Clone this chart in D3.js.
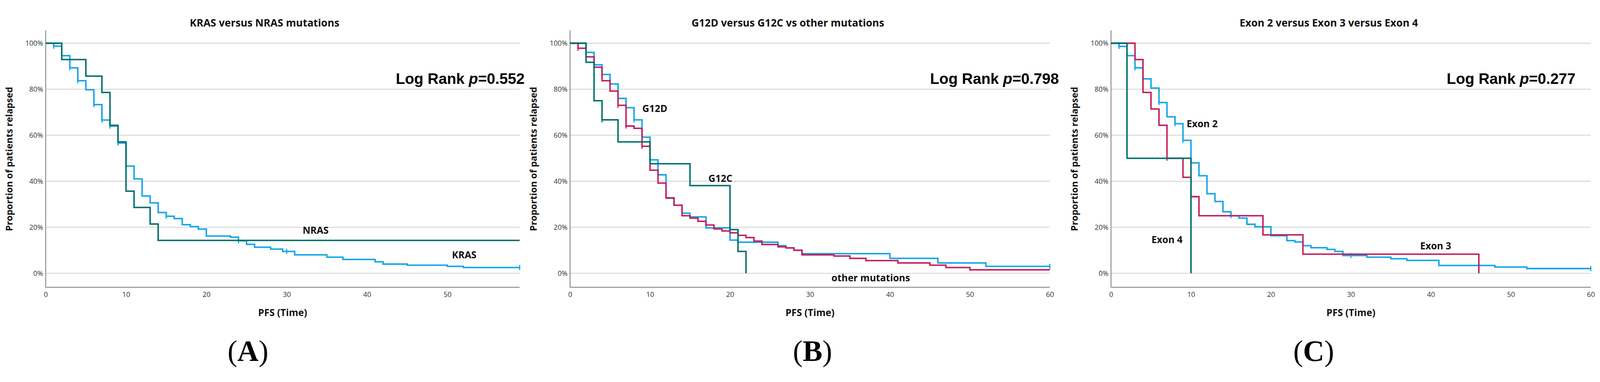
<!DOCTYPE html>
<html><head><meta charset="utf-8">
<script src="https://cdn.jsdelivr.net/npm/d3@7"></script>
<style>html,body{margin:0;padding:0;background:#fff;overflow:hidden;width:100%;height:100%;} svg{display:block;width:100vw;height:100vh}</style>
</head><body><svg id="c" viewBox="0 0 4342 979" preserveAspectRatio="xMidYMid meet"></svg>
<script>
// ---------------- data ----------------
const yTicks = [0, 0.2, 0.4, 0.6, 0.8, 1];
const xTicksA = [0, 10, 20, 30, 40, 50];
const xTicksBC = [0, 10, 20, 30, 40, 50, 60];
const titles = ["KRAS versus NRAS mutations", "G12D versus G12C vs other mutations", "Exon 2 versus Exon 3 versus Exon 4"];
const pValues = ["0.552", "0.798", "0.277"];
const letters = ["A", "B", "C"];
const xMax = [59, 60, 60];

// Panel A
const krasT = [0,1,2,3,4,5,6,7,8,9,10,11,12,13,14,15,16,17,18,19,20,23,24,25,26,28,29.5,31,35,37,41,42,45,50,52,59];
const krasS = [1,.987,.946,.893,.837,.798,.733,.666,.640,.566,.466,.410,.336,.306,.264,.248,.238,.211,.203,.192,.162,.157,.141,.126,.113,.105,.095,.080,.070,.060,.050,.040,.035,.030,.025,.025];
const krasCens = [1,3,4,6,7,8,9,10,15,24,30,59];
const nrasT = [0,2,5,7,8,9,10,11,13,14,59];
const nrasS = [1,.929,.857,.786,.643,.571,.357,.286,.214,.143,.143];
const nrasCens = [];

// Panel B
const g12dT = [0,2,3,4,5,6,7,8,9,10,11,12,13,14,15,17,20,21,26,27,28,29,40,46,52,60];
const g12dS = [1,.96,.906,.864,.823,.76,.72,.667,.592,.493,.428,.326,.296,.261,.245,.197,.144,.135,.12,.11,.10,.085,.065,.045,.03,.03];
const g12dCens = [8,9,10,60];
const g12cT = [0,2,3,4,6,10,15,20,21,22];
const g12cS = [1,.917,.75,.667,.571,.476,.381,.19,.095,0];
const g12cCens = [4];
const otherT = [0,1,2,3,4,5,6,7,8,9,10,11,12,13,14,15,16,17,18,19,20,21,22,23,24,26,27,28,29,33,35,37,41,45,47,50,60];
const otherS = [1,.978,.941,.896,.837,.792,.73,.64,.63,.552,.448,.392,.328,.296,.25,.24,.226,.21,.193,.184,.176,.165,.155,.14,.125,.115,.11,.10,.08,.075,.065,.055,.045,.035,.025,.015,.015];
const otherCens = [1,3,6,7,9];

// Panel C
const exon2T = [0,1,2,3,4,5,6,7,8,9,10,11,12,13,14,15,16,17,18,20,22,23,24,25,27,28,29,32,35,37,41,48,52,60];
const exon2S = [1,.986,.946,.893,.845,.805,.742,.68,.65,.578,.48,.424,.346,.312,.267,.25,.24,.213,.202,.163,.142,.136,.12,.111,.104,.095,.077,.07,.063,.056,.034,.027,.0205,.0205];
const exon2Cens = [1,3,4,6,8,9,10,15,30,60];
const exon3T = [0,3,4,5,6,7,9,10,11,19,24,46];
const exon3S = [1,.929,.786,.714,.643,.5,.417,.333,.25,.167,.083,0];
const exon3Cens = [7];
const exon4T = [0,2,10];
const exon4S = [1,.5,0];
const exon4Cens = [];

// ---------------- styling / layout ----------------
const COL = {teal: "#00706b", blue: "#12a5e6", red: "#c51d5c"};
const panelX0 = [124, 1547, 3015];
const ppu = [21.8, 21.7, 21.7];
const Y100 = 88, Y0 = 713, XAXIS_Y = 751, YAXIS_TOP = 53;
const titleX = [718, 2138, 3606];
const logRankX = [1074, 2524, 3926];
const letterX = [673, 2205, 3565];

const curves = [
  [ {t: krasT, s: krasS, c: krasCens, col: COL.blue}, {t: nrasT, s: nrasS, c: nrasCens, col: COL.teal} ],
  [ {t: g12dT, s: g12dS, c: g12dCens, col: COL.blue}, {t: otherT, s: otherS, c: otherCens, col: COL.red}, {t: g12cT, s: g12cS, c: g12cCens, col: COL.teal} ],
  [ {t: exon2T, s: exon2S, c: exon2Cens, col: COL.blue}, {t: exon3T, s: exon3S, c: exon3Cens, col: COL.red}, {t: exon4T, s: exon4S, c: exon4Cens, col: COL.teal} ]
];
const labels = [
  [ {txt: "NRAS", t: 33.6, s: 0.187}, {txt: "KRAS", t: 52.1, s: 0.08} ],
  [ {txt: "G12D", t: 10.6, s: 0.715}, {txt: "G12C", t: 18.8, s: 0.411}, {txt: "other mutations", t: 37.6, s: -0.02} ],
  [ {txt: "Exon 2", t: 11.4, s: 0.65}, {txt: "Exon 4", t: 7.0, s: 0.146}, {txt: "Exon 3", t: 40.6, s: 0.118} ]
];

const svg = d3.select("#c");
svg.append("rect").attr("width", 4342).attr("height", 979).attr("fill", "#fff");
const y = d3.scaleLinear().domain([0, 1]).range([Y0, Y100]);

function stepVal(T, S, t) {
  let v = S[0];
  for (let i = 0; i < T.length; i++) if (T[i] <= t) v = S[i];
  return v;
}

for (let p = 0; p < 3; p++) {
  const x = d3.scaleLinear().domain([0, xMax[p]]).range([panelX0[p], panelX0[p] + xMax[p] * ppu[p]]);
  const g = svg.append("g");
  const xL = x(0), xR = x(xMax[p]);
  const cx = (xL + xR) / 2;

  // gridlines
  g.append("g").selectAll("line").data(yTicks).join("line")
    .attr("x1", xL).attr("x2", xR).attr("y1", d => y(d)).attr("y2", d => y(d))
    .attr("stroke", "#d6d6d6").attr("stroke-width", 2.4);

  // y axis
  const ya = g.append("g").attr("transform", `translate(${xL},0)`)
    .call(d3.axisLeft(y).tickValues(yTicks).tickFormat(d3.format(".0%")).tickSize(0).tickPadding(7));
  ya.select(".domain").remove();
  ya.selectAll("text").attr("font-family", "Open Sans").attr("font-size", 19).attr("fill", "#333");
  g.append("line").attr("x1", xL).attr("x2", xL).attr("y1", YAXIS_TOP).attr("y2", XAXIS_Y)
    .attr("stroke", "#8f8f8f").attr("stroke-width", 2.6);

  // x axis
  const xa = g.append("g").attr("transform", `translate(0,${XAXIS_Y})`)
    .call(d3.axisBottom(x).tickValues(p === 0 ? xTicksA : xTicksBC).tickFormat(d3.format("d")).tickSize(0).tickPadding(13));
  xa.select(".domain").remove();
  xa.selectAll("text").attr("font-family", "Open Sans").attr("font-size", 19).attr("fill", "#333");
  g.append("line").attr("x1", xL).attr("x2", xR).attr("y1", XAXIS_Y).attr("y2", XAXIS_Y)
    .attr("stroke", "#8f8f8f").attr("stroke-width", 2.6);

  // curves
  const line = d3.line().x(d => x(d[0])).y(d => y(d[1])).curve(d3.curveStepAfter);
  curves[p].forEach(cv => {
    const pts = cv.t.map((t, i) => [t, cv.s[i]]);
    g.append("path").attr("d", line(pts)).attr("fill", "none")
      .attr("stroke", cv.col).attr("stroke-width", 4).attr("stroke-linejoin", "miter");
    g.append("g").selectAll("line").data(cv.c).join("line")
      .attr("x1", d => x(d)).attr("x2", d => x(d))
      .attr("y1", d => y(stepVal(cv.t, cv.s, d)) - 7).attr("y2", d => y(stepVal(cv.t, cv.s, d)) + 7)
      .attr("stroke", cv.col).attr("stroke-width", 3);
  });

  // curve labels
  g.append("g").selectAll("text").data(labels[p]).join("text")
    .attr("x", d => x(d.t)).attr("y", d => y(d.s) + 9)
    .attr("text-anchor", "middle").attr("font-family", "Open Sans").attr("font-weight", 700)
    .attr("font-size", 26).attr("fill", "#111").text(d => d.txt);

  // title
  g.append("text").attr("x", titleX[p]).attr("y", 43).attr("text-anchor", "middle")
    .attr("font-family", "Open Sans").attr("font-weight", 700).attr("font-size", 28).attr("fill", "#111")
    .text(titles[p]);

  // log rank
  const lr = g.append("text").attr("x", logRankX[p]).attr("y", 198).attr("text-anchor", "start")
    .attr("font-family", "Liberation Sans, Arial, sans-serif").attr("font-weight", 700).attr("font-size", 41).attr("fill", "#000");
  lr.append("tspan").text("Log Rank ");
  lr.append("tspan").attr("font-style", "italic").text("p");
  lr.append("tspan").text("=" + pValues[p]);

  // y title
  g.append("text").attr("transform", `translate(${xL - 90},${(Y0 + Y100) / 2 + 2}) rotate(-90)`)
    .attr("text-anchor", "middle").attr("font-family", "Open Sans").attr("font-weight", 700)
    .attr("font-size", 25).attr("fill", "#111").text("Proportion of patients relapsed");

  // x title
  g.append("text").attr("x", cx).attr("y", 829).attr("text-anchor", "middle")
    .attr("font-family", "Open Sans").attr("font-weight", 700).attr("font-size", 26).attr("fill", "#111")
    .text("PFS (Time)");

  // panel letter
  const lt = g.append("text").attr("x", letterX[p]).attr("y", 951).attr("text-anchor", "middle")
    .attr("font-family", "Liberation Serif, Times New Roman, serif").attr("font-size", 80).attr("fill", "#000");
  lt.append("tspan").text("(");
  lt.append("tspan").attr("font-weight", 700).text(letters[p]);
  lt.append("tspan").text(")");
}
</script></body></html>
